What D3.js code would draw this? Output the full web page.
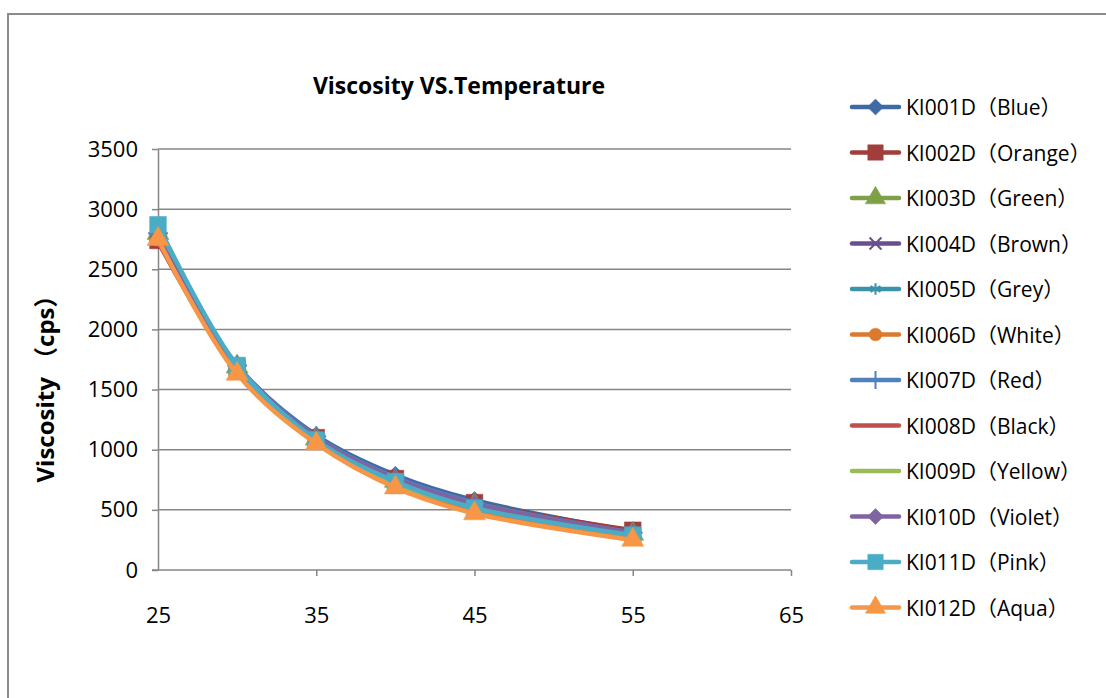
<!DOCTYPE html>
<html>
<head>
<meta charset="utf-8">
<script src="https://cdn.jsdelivr.net/npm/d3@7"></script>
<style>
  body { margin: 0; background: #fff; }
  svg { display: block; }
  text { font-family: "Open Sans", "Noto Sans CJK SC", sans-serif; fill: #000; }
</style>
</head>
<body>
<svg id="chart" width="1106" height="698"></svg>
<script>
// temperature (x) values
const temps = [25, 30, 35, 40, 45, 55]
const xTicks = [25, 35, 45, 55, 65]
const yTicks = [0, 500, 1000, 1500, 2000, 2500, 3000, 3500]

const names = ["KI001D（Blue）", "KI002D（Orange）", "KI003D（Green）", "KI004D（Brown）",
    "KI005D（Grey）", "KI006D（White）", "KI007D（Red）", "KI008D（Black）",
    "KI009D（Yellow）", "KI010D（Violet）", "KI011D（Pink）", "KI012D（Aqua）"]

// viscosity (cps)
const ki001 = [2780, 1700, 1120, 790, 580, 320]
const ki002 = [2740, 1680, 1100, 760, 560, 330]
const ki003 = [2800, 1690, 1090, 740, 540, 300]
const ki004 = [2760, 1670, 1090, 750, 550, 310]
const ki005 = [2820, 1690, 1100, 750, 540, 300]
const ki006 = [2750, 1640, 1060, 700, 490, 270]
const ki007 = [2800, 1700, 1110, 770, 560, 310]
const ki008 = [2730, 1660, 1080, 730, 520, 300]
const ki009 = [2790, 1680, 1080, 720, 520, 290]
const ki010 = [2770, 1690, 1100, 760, 550, 310]
const ki011 = [2870, 1700, 1080, 735, 515, 290]
const ki012 = [2750, 1630, 1050, 685, 470, 250]
const values = [ki001, ki002, ki003, ki004, ki005, ki006, ki007, ki008, ki009, ki010, ki011, ki012]

const colors = ["#3E6AA6", "#A13E3B", "#7FA046", "#6A4F8E", "#3A93A8", "#D97A2F",
    "#4F81BD", "#C0504D", "#9BBB59", "#8064A2", "#4BACC6", "#F79646"]
const markers = ["diamond", "square", "triangle", "x", "asterisk", "circle",
    "plus", null, null, "diamond", "square", "triangle"]

const svg = d3.select("#chart")

// outer chart frame (only top & left visible)
svg.append("path")
    .attr("fill", "none")
    .attr("stroke", "#8c8c8c")
    .attr("stroke-width", 2)
    .attr("d", "M8,698V14H1106")

const x = d3.scaleLinear().domain([25, 65]).range([158, 791])
const y = d3.scaleLinear().domain([0, 3500]).range([570, 149])

// gridlines
svg.append("g")
    .selectAll("line")
    .data(yTicks.slice(1))
    .join("line")
        .attr("x1", x(25))
        .attr("x2", x(65))
        .attr("y1", d => y(d))
        .attr("y2", d => y(d))
        .attr("stroke", "#868686")
        .attr("stroke-width", 1.5)

const yAxis = svg.append("g")
    .attr("transform", `translate(${x(25)},0)`)
    .call(d3.axisLeft(y).tickValues(yTicks).tickFormat(d3.format("d"))
        .tickSize(6).tickPadding(14).tickSizeOuter(0))
const xAxis = svg.append("g")
    .attr("transform", `translate(0,${y(0)})`)
    .call(d3.axisBottom(x).tickValues(xTicks).tickFormat(d3.format("d"))
        .tickSize(6).tickPadding(31).tickSizeOuter(0))

for (const ax of [yAxis, xAxis]) {
    ax.select(".domain").attr("stroke", "#868686").attr("stroke-width", 1.5)
    ax.selectAll(".tick line").attr("stroke", "#868686").attr("stroke-width", 1.5)
    ax.selectAll(".tick text")
        .attr("font-size", 22)
        .attr("font-family", "Open Sans")
        .attr("fill", "#000")
}
// x axis line extends a little past the y axis, like the original
xAxis.select(".domain").attr("d", `M${x(25) - 6},0H${x(65)}`)
xAxis.selectAll(".tick").filter(d => d === 25).select("line").remove()

// title and y label
svg.append("text")
    .attr("x", 459)
    .attr("y", 94)
    .attr("text-anchor", "middle")
    .attr("font-size", 23)
    .attr("font-weight", "bold")
    .text("Viscosity VS.Temperature")

svg.append("text")
    .attr("transform", "translate(44,383) rotate(-90)")
    .attr("text-anchor", "middle")
    .attr("dominant-baseline", "central")
    .attr("font-size", 24)
    .attr("font-weight", "bold")
    .text("Viscosity （cps）")

function markerPath(type, size) {
    const types = {
        diamond: d3.symbolSquare, square: d3.symbolSquare, triangle: d3.symbolTriangle,
        circle: d3.symbolCircle, x: d3.symbolX, asterisk: d3.symbolAsterisk, plus: d3.symbolPlus
    }
    const sizes = { diamond: 150, square: 280, triangle: 210, circle: 150, x: 110, asterisk: 110, plus: 130 }
    return d3.symbol(types[type], sizes[type] * size)()
}
function drawMarker(g, type, color, cx, cy, size) {
    if (!type) return
    const stroked = ["x", "asterisk", "plus"].includes(type)
    g.append("path")
        .attr("d", markerPath(type, size))
        .attr("transform", `translate(${cx},${cy})` + (type === "diamond" ? " rotate(45)" : ""))
        .attr("fill", stroked ? "none" : color)
        .attr("stroke", color)
        .attr("stroke-width", stroked ? 2 : 0.5)
}

const line = d3.line()
    .x((d, i) => x(temps[i]))
    .y(d => y(d))
    .curve(d3.curveCatmullRom.alpha(0.5))

const plot = svg.append("g")
values.forEach((vals, k) => {
    const g = plot.append("g")
    g.append("path")
        .attr("d", line(vals))
        .attr("fill", "none")
        .attr("stroke", colors[k])
        .attr("stroke-width", 4.5)
        .attr("stroke-linejoin", "round")
        .attr("stroke-linecap", "round")
    vals.forEach((v, i) => drawMarker(g, markers[k], colors[k], x(temps[i]), y(v), 1))
})

// legend
const legend = svg.append("g")
names.forEach((name, k) => {
    const ly = 107 + k * 45.5
    const g = legend.append("g")
    g.append("line")
        .attr("x1", 852)
        .attr("x2", 899)
        .attr("y1", ly)
        .attr("y2", ly)
        .attr("stroke", colors[k])
        .attr("stroke-width", 4.5)
        .attr("stroke-linecap", "round")
    drawMarker(g, markers[k], colors[k], 875.5, ly, 0.85)
    g.append("text")
        .attr("x", 906)
        .attr("y", ly)
        .attr("dominant-baseline", "central")
        .attr("font-size", 21)
        .text(name)
})
</script>
</body>
</html>
